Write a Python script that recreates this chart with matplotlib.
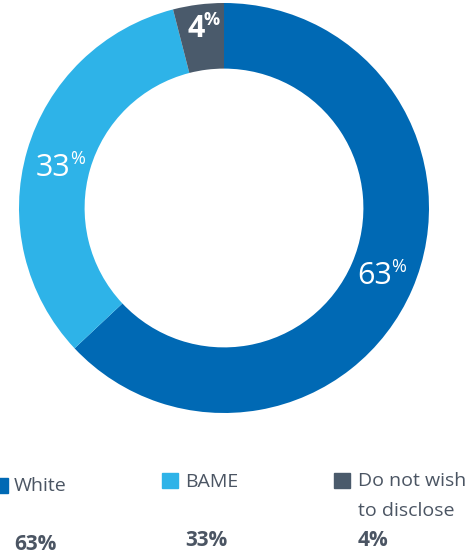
import numpy as np
import matplotlib.pyplot as plt

plt.rcParams['font.family'] = ['Open Sans', 'DejaVu Sans']

categories = ['White', 'BAME', 'Do not wish\nto disclose']
shares = [63, 33, 4]
colours = ['#0069b4', '#2eb3e8', '#4a5a6b']
text_grey = '#4b5563'

W, H = 471, 558
fig = plt.figure(figsize=(W / 100, H / 100), dpi=100)

# donut
cx, cy, r = 224, 208, 205
ring = 0.32
ax = fig.add_axes([(cx - r) / W, (H - cy - r) / H, 2 * r / W, 2 * r / H])
wedges, _ = ax.pie(shares, colors=colours, startangle=90, counterclock=False,
                   wedgeprops=dict(width=ring, edgecolor='none'))
ax.set_aspect('equal')
ax.set_xlim(-1, 1)
ax.set_ylim(-1, 1)

# value labels on the ring: number plus small raised %
mid_r = 1 - ring / 2
nudge = {63: (0.005, 0.0), 33: (0.015, -0.04), 4: (-0.01, 0.04)}
for w, v in zip(wedges, shares):
    ang = np.deg2rad((w.theta1 + w.theta2) / 2)
    x, y = mid_r * np.cos(ang) + nudge[v][0], mid_r * np.sin(ang) + nudge[v][1]
    wt = 'bold' if v < 10 else 'medium'
    shift = 0.02 if v < 10 else 0.045
    ax.text(x + shift, y, f'{v}', color='white', fontsize=22, fontweight=wt,
            ha='right', va='center')
    ax.text(x + shift - 0.004, y + 0.045, '%', color='white', fontsize=13,
            fontweight=wt, ha='left', va='center')

# legend along the bottom
sq_x = [-8, 162, 334]
sq_y = [478, 473, 473]
txt_x = [14, 185, 358]
leg_y = [486, 482, 472]
val_y = [545, 540, 540]
for i, (lab, v) in enumerate(zip(categories, shares)):
    fig.patches.append(plt.Rectangle((sq_x[i] / W, 1 - (sq_y[i] + 15) / H),
                                     16 / W, 15 / H, color=colours[i],
                                     transform=fig.transFigure, figure=fig))
    fig.text(txt_x[i] / W, 1 - leg_y[i] / H, lab, color=text_grey,
             fontsize=14, va='top' if '\n' in lab else 'center', ha='left',
             linespacing=1.85)
    fig.text(txt_x[i] / W, 1 - val_y[i] / H, f'{v}%', color=text_grey,
             fontsize=15, fontweight='bold', va='center', ha='left')

fig.savefig('out.png', dpi=100, facecolor='white')
